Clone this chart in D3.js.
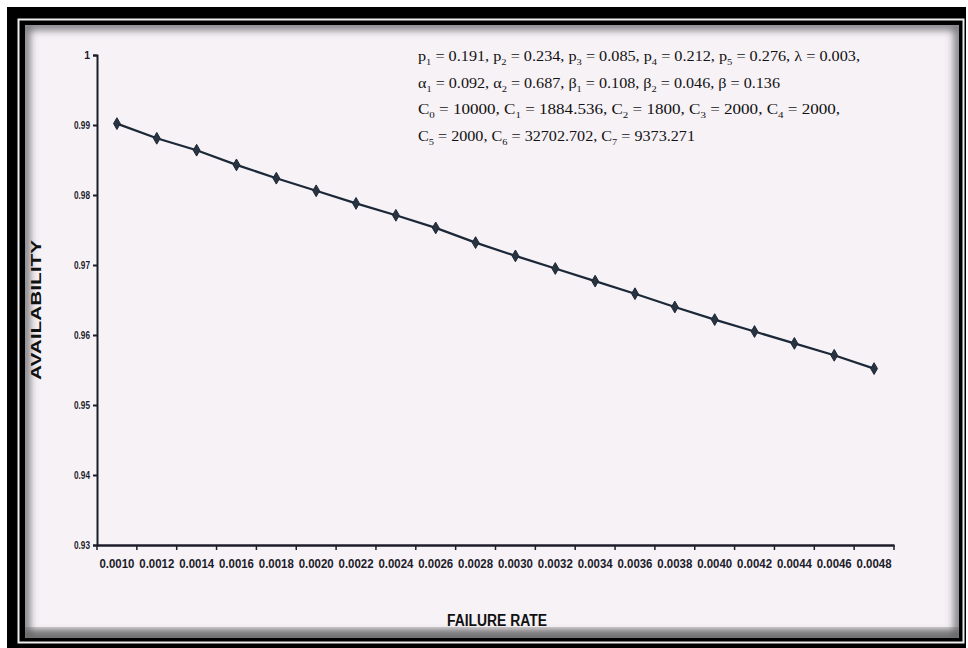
<!DOCTYPE html>
<html>
<head>
<meta charset="utf-8">
<script src="https://cdn.jsdelivr.net/npm/d3@7"></script>
<style>
  body { margin: 0; background: #fff; }
  svg { display: block; }
  .tick text { font-family: 'Liberation Sans', Arial, sans-serif; font-weight: bold; fill: #1c1c2a; }
</style>
</head>
<body>
<div id="root"></div>
<script>
// failure rate categories (x axis)
var rates = ["0.0010","0.0012","0.0014","0.0016","0.0018","0.0020","0.0022","0.0024","0.0026","0.0028",
             "0.0030","0.0032","0.0034","0.0036","0.0038","0.0040","0.0042","0.0044","0.0046","0.0048"];
// availability
var availability = [0.9902,0.9881,0.9864,0.9843,0.9824,0.9806,0.9788,0.9771,0.9753,0.9732,
                    0.9713,0.9695,0.9677,0.9659,0.9640,0.9622,0.9605,0.9588,0.9571,0.9552];
var yTicks = [0.93,0.94,0.95,0.96,0.97,0.98,0.99,1];
var yTickLabels = ["0.93","0.94","0.95","0.96","0.97","0.98","0.99","1"];

// parameter note, one array per line: [base, subscript, rest]
var noteLines = [
  [["p","1"," = 0.191, "],["p","2"," = 0.234, "],["p","3"," = 0.085, "],["p","4"," = 0.212, "],["p","5"," = 0.276, "],["λ",""," = 0.003,"]],
  [["α","1"," = 0.092, "],["α","2"," = 0.687, "],["β","1"," = 0.108, "],["β","2"," = 0.046, "],["β",""," = 0.136"]],
  [["C","0"," = 10000, "],["C","1"," = 1884.536, "],["C","2"," = 1800, "],["C","3"," = 2000, "],["C","4"," = 2000,"]],
  [["C","5"," = 2000, "],["C","6"," = 32702.702, "],["C","7"," = 9373.271"]]
];
var noteWidths = [442, 362, 422, 277];

var width = 968, height = 648;

var svg = d3.select("#root").append("svg")
  .attr("width", width)
  .attr("height", height);

var defs = svg.append("defs");
defs.append("filter").attr("id", "shade")
  .attr("x", "-5%").attr("y", "-5%").attr("width", "110%").attr("height", "110%")
  .append("feGaussianBlur").attr("stdDeviation", 4);
defs.append("clipPath").attr("id", "pageClip")
  .append("rect").attr("x", 25).attr("y", 25).attr("width", 934).attr("height", 613);

// scanned frame
svg.append("rect").attr("x", 0).attr("y", 0).attr("width", width).attr("height", height).attr("fill", "#fff");
svg.append("rect").attr("x", 7).attr("y", 7).attr("width", 959).attr("height", 641).attr("fill", "#000");
svg.append("rect").attr("x", 18.5).attr("y", 19.5).attr("width", 945).attr("height", 623)
  .attr("fill", "none").attr("stroke", "#eee").attr("stroke-width", 2);
svg.append("rect").attr("x", 25).attr("y", 25).attr("width", 934).attr("height", 613).attr("fill", "#f7f2f6");

var shade = svg.append("g").attr("clip-path", "url(#pageClip)");
shade.append("rect").attr("x", 25).attr("y", 25).attr("width", 934).attr("height", 613)
  .attr("fill", "none").attr("stroke", "#6a6a6e").attr("stroke-width", 9)
  .attr("filter", "url(#shade)");
shade.append("rect").attr("x", 20).attr("y", 628).attr("width", 944).attr("height", 14)
  .attr("fill", "#555").attr("filter", "url(#shade)").attr("opacity", 0.6);

// scales
var x = d3.scaleBand().domain(rates).range([97, 894]);
var y = d3.scaleLinear().domain([0.93, 1]).range([545, 55]);

// y axis
var yAxis = d3.axisLeft(y).tickValues(yTicks).tickSize(4)
  .tickFormat(function(d, i) { return yTickLabels[i]; });
var gy = svg.append("g").attr("transform", "translate(97,0)").call(yAxis);
gy.select(".domain").attr("stroke", "#1c1c2a").attr("stroke-width", 2);
gy.selectAll(".tick line").attr("stroke", "#1c1c2a").attr("stroke-width", 2);
gy.selectAll(".tick text").attr("font-size", 10.5).attr("x", -7)
  .attr("textLength", function(d) { return d === 1 ? null : 16; })
  .attr("lengthAdjust", "spacingAndGlyphs");

// x axis, ticks on category boundaries like the original
var xAxis = d3.axisBottom(x).tickSize(0).tickPadding(14);
var gx = svg.append("g").attr("transform", "translate(0,545)").call(xAxis);
gx.select(".domain").attr("stroke", "#1c1c2a").attr("stroke-width", 2.5);
gx.selectAll(".tick text").attr("font-size", 12)
  .attr("textLength", 35).attr("lengthAdjust", "spacingAndGlyphs");
gx.selectAll(".boundary")
  .data(rates.concat(["end"]))
  .enter().append("line")
  .attr("x1", function(d, i) { return i < rates.length ? x(d) : x.range()[1]; })
  .attr("x2", function(d, i) { return i < rates.length ? x(d) : x.range()[1]; })
  .attr("y1", 0).attr("y2", 5)
  .attr("stroke", "#1c1c2a").attr("stroke-width", 1.5);

// axis titles
svg.append("text")
  .attr("x", 497).attr("y", 626)
  .attr("text-anchor", "middle")
  .attr("font-family", "'Liberation Sans', Arial, sans-serif")
  .attr("font-weight", "bold").attr("font-size", 16).attr("fill", "#111")
  .attr("textLength", 100).attr("lengthAdjust", "spacingAndGlyphs")
  .text("FAILURE RATE");

svg.append("text")
  .attr("transform", "translate(41,310) rotate(-90)")
  .attr("text-anchor", "middle")
  .attr("font-family", "'Liberation Sans', Arial, sans-serif")
  .attr("font-weight", "bold").attr("font-size", 15).attr("fill", "#111")
  .attr("textLength", 140).attr("lengthAdjust", "spacingAndGlyphs")
  .text("AVAILABILITY");

// line + markers
var line = d3.line()
  .x(function(d, i) { return x(rates[i]) + x.bandwidth() / 2; })
  .y(function(d) { return y(d); });

svg.append("path")
  .datum(availability)
  .attr("d", line)
  .attr("fill", "none")
  .attr("stroke", "#1b2838")
  .attr("stroke-width", 2.2);

svg.selectAll(".pt")
  .data(availability)
  .enter().append("path")
  .attr("class", "pt")
  .attr("transform", function(d, i) {
    return "translate(" + (x(rates[i]) + x.bandwidth() / 2) + "," + y(d) + ")";
  })
  .attr("d", d3.symbol().type(d3.symbolDiamond).size(40))
  .attr("fill", "#2a3340")
  .attr("stroke", "#1b2838")
  .attr("stroke-width", 1);

// parameter note
var note = svg.append("g").attr("font-family", "'Liberation Serif', serif").attr("fill", "#111");
noteLines.forEach(function(parts, li) {
  var t = note.append("text")
    .attr("x", 418).attr("y", 61 + li * 26.5)
    .attr("font-size", 14)
    .attr("textLength", noteWidths[li])
    .attr("lengthAdjust", "spacingAndGlyphs");
  parts.forEach(function(p) {
    t.append("tspan").text(p[0]);
    if (p[1]) t.append("tspan").attr("font-size", 9).attr("dy", 4).text(p[1]);
    t.append("tspan").attr("dy", p[1] ? -4 : 0).text(p[2]);
  });
});
</script>
</body>
</html>
